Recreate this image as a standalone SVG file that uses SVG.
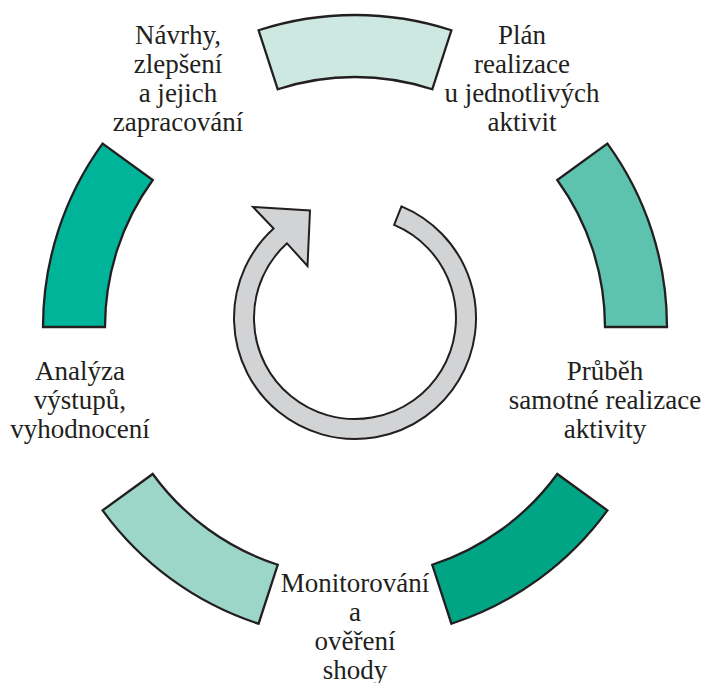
<svg xmlns="http://www.w3.org/2000/svg" width="710" height="683" viewBox="0 0 710 683">
<style>
.seg{stroke:#231f20;stroke-width:2.3;stroke-linejoin:miter}
.lbl{font-family:"Liberation Serif","Times New Roman",serif;font-size:27px;fill:#231f20;text-anchor:middle}
.ring{fill:#d1d3d4;stroke:#231f20;stroke-width:2;stroke-linejoin:miter}
</style>
<rect width="710" height="683" fill="#ffffff"/>
<g id="node-plan">
<path class="seg" fill="#cde8e0" d="M 258.59 30.27 A 312 312 0 0 1 451.41 30.27 L 432.25 89.24 A 250 250 0 0 0 277.75 89.24 Z"/>
<text class="lbl" x="522" y="44">Plán</text>
<text class="lbl" x="522" y="73">realizace</text>
<text class="lbl" x="522" y="102">u jednotlivých</text>
<text class="lbl" x="522" y="131">aktivit</text>
</g>
<g id="node-prubeh">
<path class="seg" fill="#5dc3ae" d="M 607.41 143.61 A 312 312 0 0 1 667 327 L 605 327 A 250 250 0 0 0 557.25 180.05 Z"/>
<text class="lbl" x="605" y="380">Průběh</text>
<text class="lbl" x="605" y="409">samotné realizace</text>
<text class="lbl" x="605" y="438">aktivity</text>
</g>
<g id="node-monitorovani">
<path class="seg" fill="#00a585" d="M 607.41 510.39 A 312 312 0 0 1 451.41 623.73 L 432.25 564.76 A 250 250 0 0 0 557.25 473.95 Z"/>
<text class="lbl" x="355" y="592">Monitorování</text>
<text class="lbl" x="355" y="621">a</text>
<text class="lbl" x="355" y="650">ověření</text>
<text class="lbl" x="355" y="679">shody</text>
</g>
<g id="node-analyza">
<path class="seg" fill="#9cd6c9" d="M 258.59 623.73 A 312 312 0 0 1 102.59 510.39 L 152.75 473.95 A 250 250 0 0 0 277.75 564.76 Z"/>
<text class="lbl" x="80" y="380">Analýza</text>
<text class="lbl" x="80" y="409">výstupů,</text>
<text class="lbl" x="80" y="438">vyhodnocení</text>
</g>
<g id="node-navrhy">
<path class="seg" fill="#00b49a" d="M 43 327 A 312 312 0 0 1 102.59 143.61 L 152.75 180.05 A 250 250 0 0 0 105 327 Z"/>
<text class="lbl" x="178" y="44">Návrhy,</text>
<text class="lbl" x="178" y="73">zlepšení</text>
<text class="lbl" x="178" y="102">a jejich</text>
<text class="lbl" x="178" y="131">zapracování</text>
</g>
<g id="connectors">
<path id="cycle-arrow" class="ring" d="M 401.5 206.3 A 121 121 0 1 1 273.6 228.5 L 253 207 L 310 210.5 L 307.5 266 L 287 243.3 A 101 101 0 1 0 394.1 224.9 Z"/>
</g>
</svg>
